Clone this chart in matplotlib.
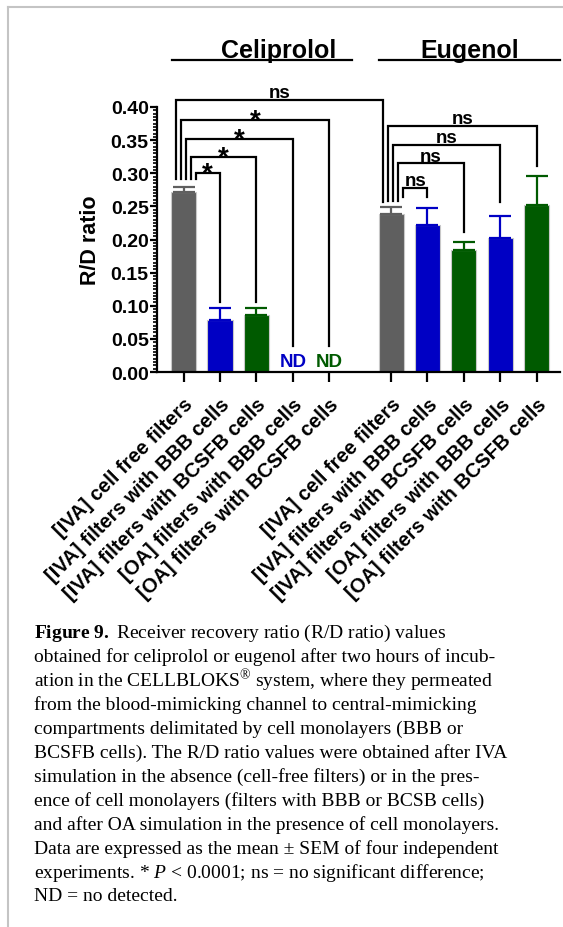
"""R/D ratio bar chart for celiprolol and eugenol in the CELLBLOKS system, with figure caption."""

import matplotlib
matplotlib.use('Agg')
import matplotlib.pyplot as plt
from matplotlib.lines import Line2D
from matplotlib.ticker import MultipleLocator, FormatStrFormatter
from matplotlib.transforms import ScaledTranslation
import numpy as np

plt.rcParams['font.family'] = ['Liberation Sans', 'DejaVu Sans']
plt.rcParams['mathtext.fontset'] = 'custom'
plt.rcParams['mathtext.rm'] = 'Liberation Serif'
plt.rcParams['mathtext.it'] = 'Liberation Serif:italic'
plt.rcParams['mathtext.bf'] = 'Liberation Serif:bold'

# data
groups = ["Celiprolol", "Eugenol"]
conditions = [
    "[IVA] cell free filters",
    "[IVA] filters with BBB cells",
    "[IVA] filters with BCSFB cells",
    "[OA] filters with BBB cells",
    "[OA] filters with BCSFB cells",
]
celiprolol_mean = [0.272, 0.079, 0.086, np.nan, np.nan]
celiprolol_sem = [0.008, 0.017, 0.010, np.nan, np.nan]
eugenol_mean = [0.238, 0.222, 0.184, 0.202, 0.252]
eugenol_sem = [0.011, 0.025, 0.012, 0.033, 0.044]

# comparisons: (left bar, right bar, bracket height, label, left leg end, right leg end)
comparisons = [
    (0, 1, 0.300, "*", 0.291, 0.106),
    (0, 2, 0.325, "*", 0.291, 0.106),
    (0, 3, 0.352, "*", 0.291, 0.039),
    (0, 4, 0.380, "*", 0.291, 0.039),
    (0, 5, 0.411, "ns", 0.291, 0.257),
    (5, 6, 0.278, "ns", 0.264, 0.264),
    (5, 7, 0.315, "ns", 0.258, 0.211),
    (5, 8, 0.343, "ns", 0.258, 0.257),
    (5, 9, 0.371, "ns", 0.258, 0.311),
]

caption_lines = [
    r"$\mathbf{Figure\ 9.\ }$Receiver recovery ratio (R/D ratio) values",
    "obtained for celiprolol or eugenol after two hours of incub-",
    "ation in the CELLBLOKS$^{\u00ae}$ system, where they permeated",
    "from the blood-mimicking channel to central-mimicking",
    "compartments delimitated by cell monolayers (BBB or",
    "BCSFB cells). The R/D ratio values were obtained after IVA",
    "simulation in the absence (cell-free filters) or in the pres-",
    "ence of cell monolayers (filters with BBB or BCSB cells)",
    "and after OA simulation in the presence of cell monolayers.",
    "Data are expressed as the mean \u00b1 SEM of four independent",
    r"experiments. * $P$ < 0.0001; ns = no significant difference;",
    "ND = no detected.",
]

GREY = "#5f5f5f"
BLUE = "#0000c4"
GREEN = "#005a00"
cond_colors = [GREY, BLUE, GREEN, BLUE, GREEN]

W, H = 563, 928
fig = plt.figure(figsize=(W / 100, H / 100), dpi=100, facecolor="white")
ax = fig.add_axes([157 / W, 1 - 373 / H, (560 - 157) / W, (373 - 108) / H])

group_gap = 5.7
means = celiprolol_mean + eugenol_mean
sems = celiprolol_sem + eugenol_sem
x = np.concatenate([np.arange(5), np.arange(5) + group_gap])
colors = cond_colors * 2

ax.bar(x, np.nan_to_num(means), width=0.69, color=colors,
       edgecolor="#c8c8c8", linewidth=0.8, zorder=2)
for xi, m, s, c in zip(x, means, sems, colors):
    if np.isnan(m):
        ax.text(xi, 0.016, "ND", color=c, fontsize=13.5, fontweight="bold",
                ha="center", va="center")
        continue
    ax.errorbar(xi, m, yerr=[[0], [s]], color=c, elinewidth=1.6,
                capsize=8, capthick=1.6, zorder=3)

# significance brackets
slots = np.array([-8, -3, 2, 7, 12]) / 36.4
for (i, j, y, lab, yl, yr) in comparisons:
    lower = sum(1 for c in comparisons if c[0] == i and c[2] < y)
    xl = x[i] + slots[4 - lower]
    xr = x[j] + (slots[0] if j == 5 else 0)
    ax.plot([xl, xl, xr, xr], [yl, y, y, yr], color="black", lw=1.6,
            clip_on=False, zorder=4, solid_joinstyle="miter")
    xm = (xl + xr) / 2
    if lab == "*":
        ax.annotate(lab, (xm, y), xytext=(0, -5.5), textcoords="offset points",
                    ha="center", va="baseline", fontsize=20, fontweight="bold",
                    annotation_clip=False)
    else:
        ax.annotate(lab, (xm, y), xytext=(0, 2), textcoords="offset points",
                    ha="center", va="baseline", fontsize=13.5, fontweight="bold",
                    annotation_clip=False)

# group titles with underline
tr = ax.get_xaxis_transform()
title_x = [2.62, 7.87]
for g, start, tx in zip(groups, [0, group_gap], title_x):
    ax.plot([start - 0.32, start + 4.63], [1.177, 1.177], color="black",
            lw=1.6, transform=tr, clip_on=False)
    ax.text(tx, 1.19, g, transform=tr, ha="center", va="baseline",
            fontsize=18, fontweight="bold")

ax.set_xlim(-0.73, 10.34)
ax.set_ylim(0, 0.40)
ax.set_xticks(x)
ax.set_xticklabels(conditions * 2, rotation=45, ha="right", va="top",
                   rotation_mode="anchor", fontsize=14.5, fontweight="bold")
for lbl in ax.get_xticklabels():
    lbl.set_transform(lbl.get_transform() + ScaledTranslation(4 / 100, 0, fig.dpi_scale_trans))
ax.yaxis.set_major_locator(MultipleLocator(0.05))
ax.yaxis.set_minor_locator(MultipleLocator(0.005))
ax.yaxis.set_major_formatter(FormatStrFormatter("%.2f"))
ax.tick_params(axis="y", which="major", length=5, width=1.6, labelsize=14, pad=1)
ax.tick_params(axis="y", which="minor", length=3, width=1.2)
ax.tick_params(axis="x", which="major", length=7, width=1.6, pad=9)
for lbl in ax.get_yticklabels():
    lbl.set_fontweight("bold")
ax.set_ylabel("R/D ratio", fontsize=15.5, fontweight="bold", labelpad=7)
for side in ("top", "right"):
    ax.spines[side].set_visible(False)
for side in ("left", "bottom"):
    ax.spines[side].set_linewidth(1.6)

# caption
for k, line in enumerate(caption_lines):
    fig.text(34 / W, 1 - (633 + 24 * k) / H, line, ha="left", va="center",
             fontsize=14, family="Liberation Serif")

# page frame
fig.add_artist(Line2D([8 / W, 1], [1 - 8 / H, 1 - 8 / H], color="#c4c4c4", lw=1.5))
fig.add_artist(Line2D([8 / W, 8 / W], [0, 1 - 8 / H], color="#c4c4c4", lw=1.5))

fig.savefig("out.png", dpi=100, facecolor="white")
